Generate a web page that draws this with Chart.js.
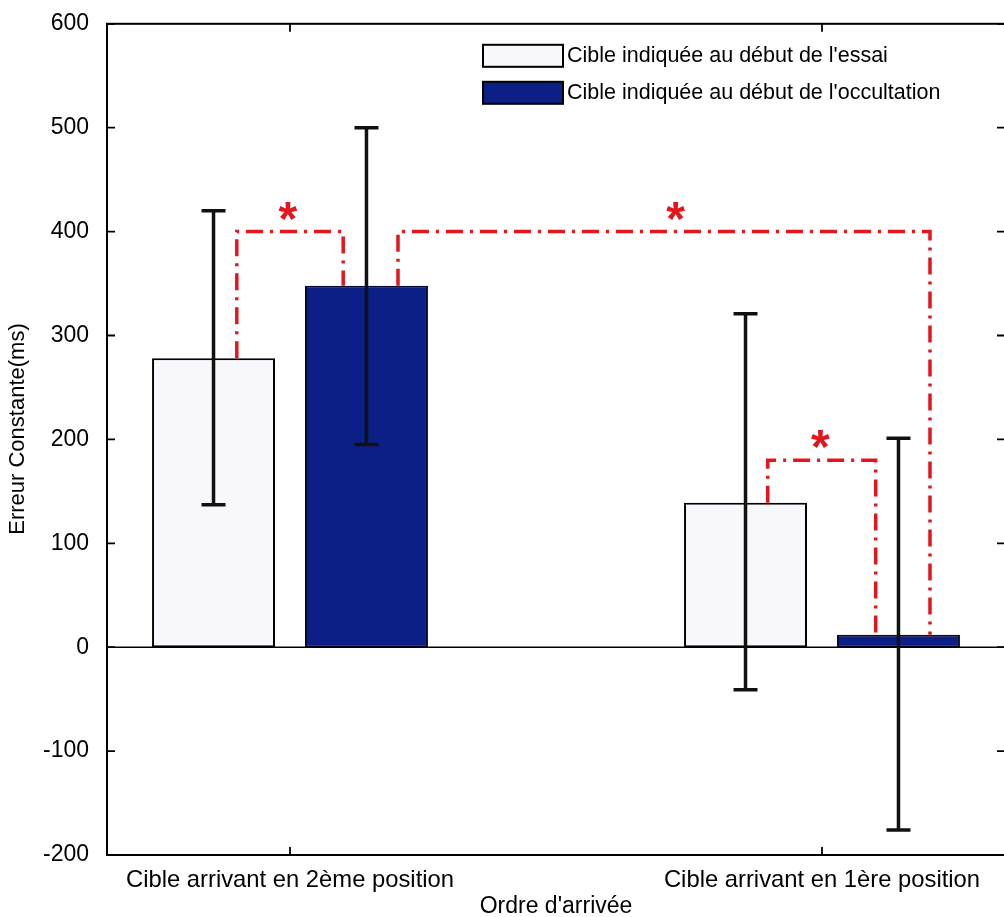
<!DOCTYPE html>
<html><head><meta charset="utf-8">
<style>html,body{margin:0;padding:0;overflow:hidden;background:#fff;width:1004px;height:917px}canvas{display:block}</style>
<script src="https://cdn.jsdelivr.net/npm/chart.js@4/dist/chart.umd.min.js"></script>
</head><body>
<canvas id="c" width="1010" height="917" style="width:1010px;height:917px"></canvas>
<script>
const categories = ['Cible arrivant en 2ème position', 'Cible arrivant en 1ère position'];
const seriesLabels = ["Cible indiquée au début de l'essai", "Cible indiquée au début de l'occultation"];
const essaiMeans = [278, 139];
const essaiErrLow = [137, -41];
const essaiErrHigh = [420, 321];
const occultMeans = [348, 12];
const occultErrLow = [195, -176];
const occultErrHigh = [500, 201];
const yTicks = [-200, -100, 0, 100, 200, 300, 400, 500, 600];
const brackets = [
  { x1: 0.9, yStart: 278, top: 400, x2: 1.1, yEnd: 348, starX: 0.996 },
  { x1: 1.203, yStart: 348, top: 400, x2: 2.203, yEnd: 12, starX: 1.725 },
  { x1: 1.898, yStart: 139, top: 180, x2: 2.101, yEnd: 12, starX: 1.997 }
];
const yTitle = 'Erreur Constante(ms)';
const xTitle = "Ordre d'arrivée";

const FONT = "'Liberation Sans', Arial, Helvetica, sans-serif";
const BLUE = '#0c1f86';
const WHITE = '#f8f8fc';
const RED = '#e3161e';

const deco = {
  id: 'deco',
  afterDatasetsDraw(chart) {
    const { ctx, chartArea: a, scales: { x, y } } = chart;
    ctx.save();
    ctx.lineCap = 'butt';
    const y0 = y.getPixelForValue(0);
    ctx.strokeStyle = '#000'; ctx.lineWidth = 1.5;
    ctx.beginPath(); ctx.moveTo(a.left, y0); ctx.lineTo(a.right, y0); ctx.stroke();
    const errs = [[essaiErrLow, essaiErrHigh], [occultErrLow, occultErrHigh]];
    chart.data.datasets.forEach((ds, di) => {
      chart.getDatasetMeta(di).data.forEach((bar, i) => {
        const px = bar.x;
        const yl = y.getPixelForValue(errs[di][0][i]);
        const yh = y.getPixelForValue(errs[di][1][i]);
        ctx.strokeStyle = '#111'; ctx.lineWidth = 3.5;
        ctx.beginPath();
        ctx.moveTo(px, yl); ctx.lineTo(px, yh);
        ctx.moveTo(px - 12, yl); ctx.lineTo(px + 12, yl);
        ctx.moveTo(px - 12, yh); ctx.lineTo(px + 12, yh);
        ctx.stroke();
      });
    });
    ctx.strokeStyle = RED; ctx.lineWidth = 3.5;
    ctx.setLineDash([17, 7, 3, 7]);
    brackets.forEach(b => {
      const X1 = x.getPixelForValue(b.x1), X2 = x.getPixelForValue(b.x2);
      const T = y.getPixelForValue(b.top);
      ctx.beginPath();
      ctx.moveTo(X1, y.getPixelForValue(b.yStart));
      ctx.lineTo(X1, T); ctx.lineTo(X2, T);
      ctx.lineTo(X2, y.getPixelForValue(b.yEnd));
      ctx.stroke();
    });
    ctx.setLineDash([]);
    ctx.fillStyle = RED;
    ctx.font = 'bold 48px ' + FONT;
    ctx.textAlign = 'center'; ctx.textBaseline = 'alphabetic';
    brackets.forEach(b => {
      ctx.fillText('*', x.getPixelForValue(b.starX), y.getPixelForValue(b.top) + 3);
    });
    ctx.strokeStyle = '#000'; ctx.lineWidth = 2;
    ctx.strokeRect(a.left, a.top, a.right - a.left, a.bottom - a.top);
    ctx.lineWidth = 1.8;
    ctx.beginPath();
    yTicks.forEach(v => {
      const py = y.getPixelForValue(v);
      ctx.moveTo(a.left, py); ctx.lineTo(a.left + 8, py);
      ctx.moveTo(a.right, py); ctx.lineTo(a.right - 8, py);
    });
    categories.forEach((c, i) => {
      const px = x.getPixelForValue(i + 1);
      ctx.moveTo(px, a.bottom); ctx.lineTo(px, a.bottom - 8);
      ctx.moveTo(px, a.top); ctx.lineTo(px, a.top + 8);
    });
    ctx.stroke();
    const lx = a.right - 522, ly = a.top + 21;
    const fills = [WHITE, BLUE];
    ctx.font = '21.5px ' + FONT;
    ctx.textAlign = 'left'; ctx.textBaseline = 'middle';
    seriesLabels.forEach((lab, i) => {
      const by = ly + i * 37;
      ctx.fillStyle = fills[i];
      ctx.fillRect(lx, by, 80, 22);
      ctx.strokeStyle = '#000'; ctx.lineWidth = 2;
      ctx.strokeRect(lx, by, 80, 22);
      ctx.fillStyle = '#000';
      ctx.fillText(lab, lx + 84, by + 11);
    });
    ctx.font = '23px ' + FONT;
    ctx.textAlign = 'center'; ctx.textBaseline = 'middle';
    ctx.fillText(xTitle, (a.left + a.right) / 2, 907);
    ctx.font = '22px ' + FONT;
    ctx.translate(18, 429); ctx.rotate(-Math.PI / 2);
    ctx.fillText(yTitle, 0, 0);
    ctx.restore();
  }
};

new Chart(document.getElementById('c'), {
  type: 'bar',
  data: {
    datasets: [
      { label: seriesLabels[0], data: essaiMeans.map((v, i) => ({ x: i + 1, y: v })),
        backgroundColor: WHITE, borderColor: '#000', borderWidth: 2, borderSkipped: false,
        categoryPercentage: 0.575, barPercentage: 0.804 },
      { label: seriesLabels[1], data: occultMeans.map((v, i) => ({ x: i + 1, y: v })),
        backgroundColor: BLUE, borderColor: '#050a30', borderWidth: 2, borderSkipped: false,
        categoryPercentage: 0.575, barPercentage: 0.804 }
    ]
  },
  options: {
    responsive: false, animation: false,
    layout: { padding: { top: 21, left: 0, right: 5, bottom: 0 } },
    plugins: { legend: { display: false }, tooltip: { enabled: false } },
    scales: {
      x: {
        type: 'linear', min: 0.656, max: 2.344, offset: false,
        afterBuildTicks: s => { s.ticks = categories.map((c, i) => ({ value: i + 1 })); },
        ticks: { callback: v => categories[Math.round(v) - 1], color: '#000', font: { family: FONT, size: 23.8 }, padding: 3, maxRotation: 0, autoSkip: false },
        grid: { display: false, offset: false }, border: { display: false },
        afterFit: s => { s.height = 62; }
      },
      y: {
        min: -200, max: 600,
        afterBuildTicks: s => { s.ticks = yTicks.map(v => ({ value: v })); },
        ticks: { color: '#000', font: { family: FONT, size: 23 }, padding: 10 },
        grid: { display: false }, border: { display: false },
        afterFit: s => { s.width = 107; }
      }
    }
  },
  plugins: [deco]
});
</script>
</body></html>
